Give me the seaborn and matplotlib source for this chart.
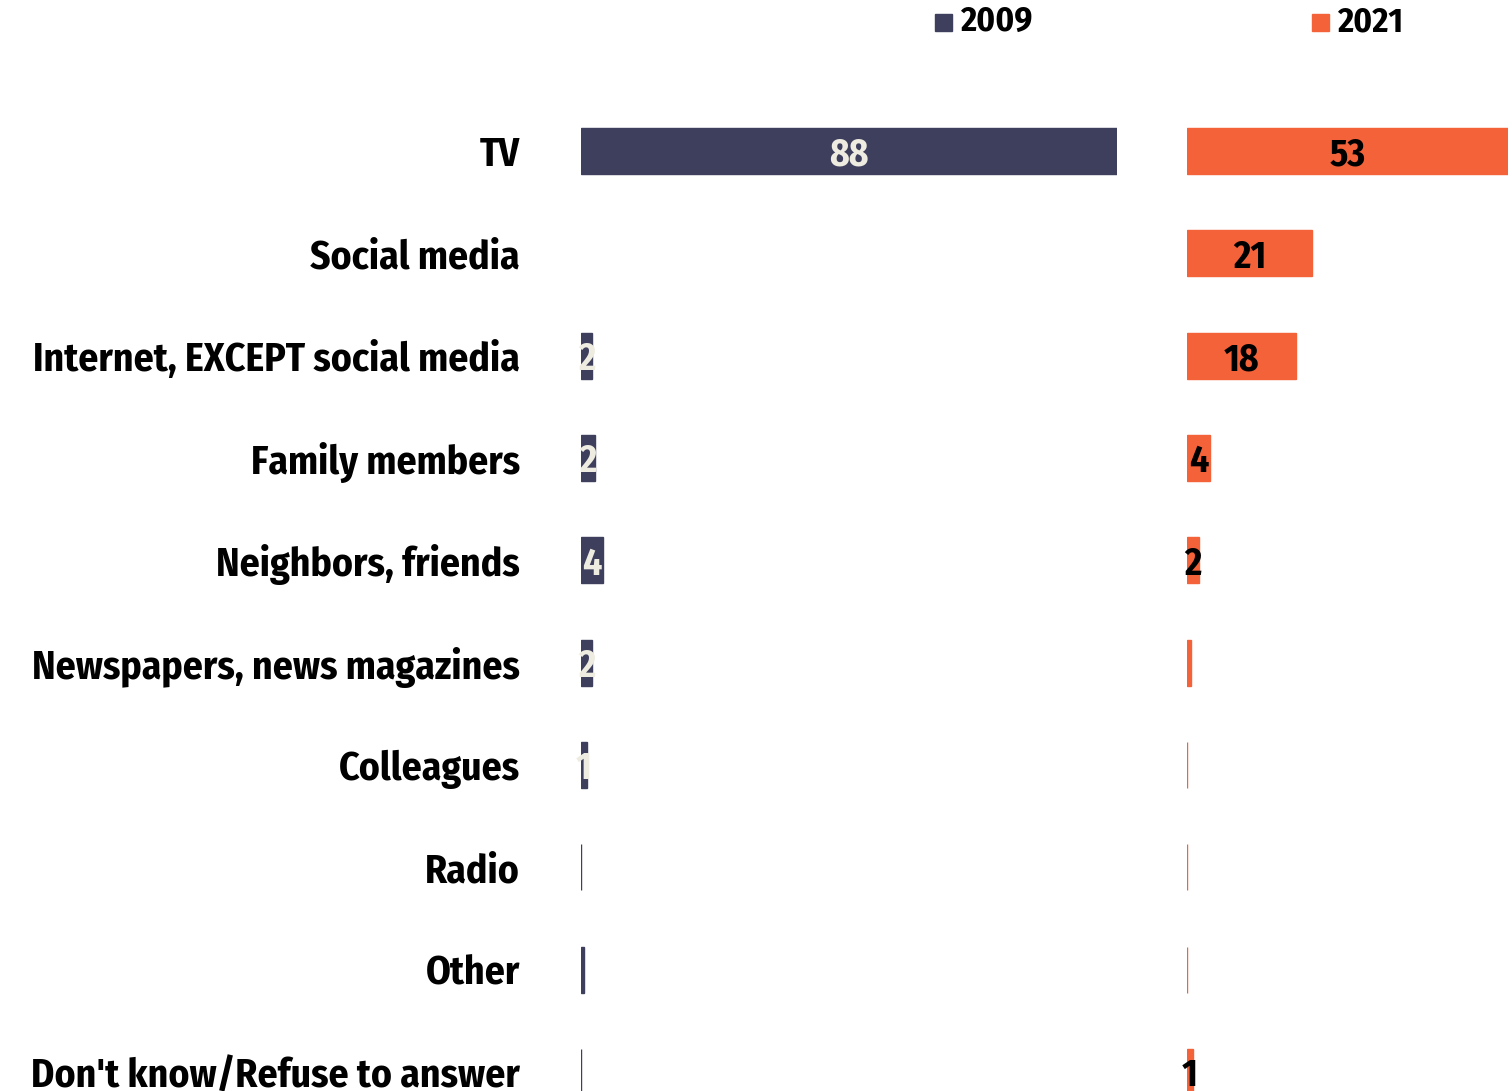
import pandas as pd
import matplotlib.pyplot as plt
import seaborn as sns
from matplotlib import font_manager
from matplotlib.patches import Rectangle

# Data
categories = ["TV", "Social media", "Internet, EXCEPT social media", "Family members",
              "Neighbors, friends", "Newspapers, news magazines", "Colleagues", "Radio",
              "Other", "Don't know/Refuse to answer"]
values_2009 = [88, None, 1.8, 2.3, 3.6, 1.8, 1.0, 0, 0.5, 0]
values_2021 = [53, 20.6, 18, 3.8, 2.0, 0.7, 0, 0, 0, 1.0]
years = ["2009", "2021"]
colors = {"2009": "#3d3f5c", "2021": "#f4623a"}
label_colors = {"2009": "#eeebe0", "2021": "#000000"}

df = pd.DataFrame({
    "Source": categories * 2,
    "Share": values_2009 + values_2021,
    "Year": ["2009"] * len(categories) + ["2021"] * len(categories),
})

sns.set_theme(style="white")
available = {f.name for f in font_manager.fontManager.ttflist}
family = "DejaVu Sans"
for name in ["Fira Sans Condensed", "Roboto Condensed", "Open Sans Condensed",
             "Liberation Sans Narrow", "DejaVu Sans Condensed", "Lato"]:
    if name in available:
        family = name
        break
plt.rcParams["font.family"] = [family, "DejaVu Sans"]

W, H = 1512, 1091
fig = plt.figure(figsize=(W / 100, H / 100), dpi=100)

# y mapping: row 0 centre at px 151, row 9 at px 1072
step = (1072 - 151) / 9
ylim = ((H - 151) / step, -151 / step)

panels = [("2009", 581, 1117, 88), ("2021", 1187, 1508, 53)]
axes = []
for year, x0, x1, xmax in panels:
    ax = fig.add_axes([x0 / W, 0, (x1 - x0) / W, 1])
    sub = df[df["Year"] == year]
    sns.barplot(data=sub, y="Source", x="Share", orient="h", color=colors[year],
                width=0.45, linewidth=1, edgecolor=colors[year], saturation=1, ax=ax)
    ax.set_xlim(0, xmax)
    ax.set_ylim(*ylim)
    ax.set_xticks([])
    ax.set_xlabel("")
    ax.set_ylabel("")
    for s in ax.spines.values():
        s.set_visible(False)
    for i, v in enumerate(sub["Share"]):
        if pd.notna(v) and v >= 1:
            ax.text(v / 2, i + 0.04, f"{v:.0f}", ha="center", va="center",
                    fontsize=27, fontweight="bold", color=label_colors[year])
    axes.append(ax)

axes[0].tick_params(axis="y", length=0, pad=44, labelsize=28.5)
for t in axes[0].get_yticklabels():
    t.set_fontweight("bold")
    t.set_color("#000000")
axes[1].set_yticks([])

# Legend
for year, sx in [("2009", 935), ("2021", 1312)]:
    fig.patches.append(Rectangle((sx / W, 1 - 31 / H), 17 / W, 17 / H,
                                 transform=fig.transFigure, color=colors[year]))
    fig.text((sx + 25) / W, 1 - 22 / H, year, ha="left", va="center",
             fontsize=25, fontweight="bold", color="#000000")

fig.savefig("out.png", dpi=100)
